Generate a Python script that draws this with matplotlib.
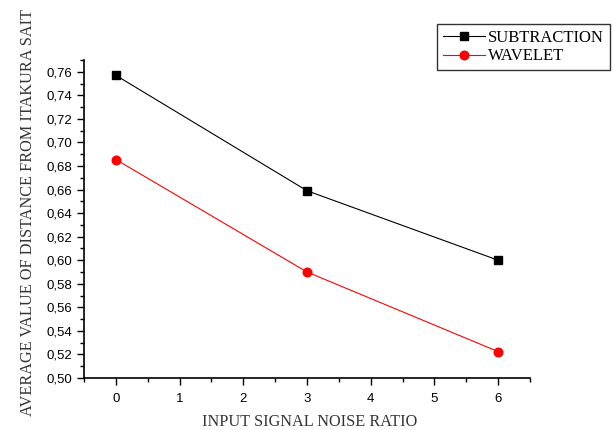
import matplotlib
matplotlib.use("Agg")
import matplotlib.pyplot as plt
from matplotlib.ticker import MultipleLocator, FuncFormatter

snr = [0, 3, 6]
subtraction = [0.757, 0.659, 0.600]
wavelet = [0.6855, 0.590, 0.5224]
series_names = ["SUBTRACTION", "WAVELET"]
x_label = "INPUT SIGNAL NOISE RATIO"
y_label = "AVERAGE VALUE OF DISTANCE FROM ITAKURA SAIT"

fig = plt.figure(figsize=(6.14, 4.30), dpi=100)
ax = fig.add_axes([84 / 614, 52 / 430, 446 / 614, 318 / 430])

l1, = ax.plot(snr, subtraction, color="black", lw=0.8, marker="s", ms=5.5,
              label=series_names[0])
l2, = ax.plot(snr, wavelet, color="red", lw=0.8, marker="o", ms=6.2,
              label=series_names[1])

ax.set_xlim(-0.5, 6.5)
ax.set_ylim(0.50, 0.77)
ax.xaxis.set_major_locator(MultipleLocator(1))
ax.xaxis.set_minor_locator(MultipleLocator(0.5))
ax.yaxis.set_major_locator(MultipleLocator(0.02))
ax.yaxis.set_minor_locator(MultipleLocator(0.01))
ax.yaxis.set_major_formatter(FuncFormatter(lambda v, p: f"{v:.2f}".replace(".", ",")))

for side in ("top", "right"):
    ax.spines[side].set_visible(False)
for side in ("left", "bottom"):
    ax.spines[side].set_linewidth(1.2)

ax.tick_params(which="major", direction="out", length=5, width=1.0,
               labelsize=9.5, labelfontfamily="Liberation Sans")
ax.tick_params(which="minor", direction="out", length=3, width=1.0)
ax.tick_params(axis="x", pad=6)

fig.text(310 / 614, 8 / 430, x_label, ha="center", va="center",
         family="Liberation Serif", fontsize=11.7, color="#333333")
fig.text(28 / 614, 1 - 212 / 430, y_label, ha="center", va="center",
         rotation=90, family="Liberation Serif", fontsize=11.7, color="#333333")

leg = fig.legend(handles=[l1, l2], loc="upper left",
                 bbox_to_anchor=(437 / 614, 1 - 24 / 430),
                 prop={"family": "Liberation Serif", "size": 12},
                 frameon=True, fancybox=False, edgecolor="black",
                 handlelength=2.5, handletextpad=0.2, labelspacing=0.15,
                 borderpad=0.35, borderaxespad=0)
leg.get_frame().set_linewidth(1.0)

fig.savefig("out.png", dpi=100)
